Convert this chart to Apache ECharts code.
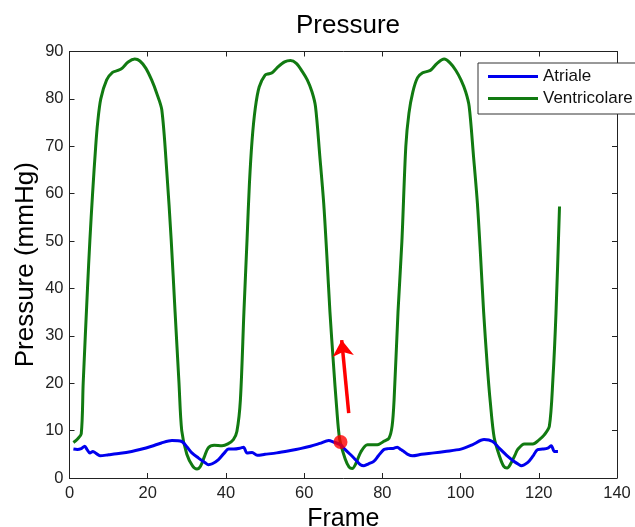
<!DOCTYPE html>
<html>
<head>
<meta charset="utf-8">
<script src="https://cdn.jsdelivr.net/npm/echarts@6/dist/echarts.min.js"></script>
<style>
html,body{margin:0;padding:0;background:#fff;}
#chart{width:635px;height:527px;}
</style>
</head>
<body>
<div id="chart"></div>
<script>
var chartTitle = 'Pressure';
var xAxisName = 'Frame';
var yAxisName = 'Pressure (mmHg)';
var seriesNames = ['Atriale', 'Ventricolare'];
var xTicks = [0, 20, 40, 60, 80, 100, 120, 140];
var yTicks = [0, 10, 20, 30, 40, 50, 60, 70, 80, 90];

var atrFrames = [1,2,3,3.9,4.5,5.2,6,6.8,7.8,10,13,15.9,18,21,23.5,26.2,28.7,30,31.3,33,34.7,35.5,36.5,38.1,39.5,40.7,42,43.7,44.5,45.4,46.7,48,50,53,56.5,59,61.6,64,66.3,67.5,69.3,70.5,71.9,73.2,74.4,75.3,76.5,77.8,79,80.4,81.5,83,83.8,84.7,85.5,86.5,87.7,90,93.2,96,100.1,103,106,108.2,110,112,113.5,115,115.5,117.2,118.5,119.7,121,122.3,123.2,124,124.9];
var atrValues = [6.1,6.0,6.2,6.7,6.0,5.3,5.6,5.2,4.7,4.9,5.2,5.6,6.0,6.7,7.4,7.9,7.7,6.6,5.3,4.2,3.2,2.8,3.0,3.9,5.2,6.1,6.1,6.3,6.5,5.3,5.4,4.8,5.0,5.3,5.8,6.2,6.7,7.3,7.9,7.6,7.0,6.0,4.9,3.8,2.8,2.6,3.0,3.5,4.7,6.0,6.2,6.3,6.5,6.0,5.6,5.0,4.7,5.0,5.3,5.6,6.1,7.0,8.1,7.7,6.2,4.6,3.6,2.8,2.6,3.3,4.6,6.0,6.1,6.3,6.8,5.6,5.6];

var ventFrames = [1,2,3,3.5,4.6,5.2,5.9,6.7,7.2,8,9.5,11,12.4,13.5,15,16.7,18,19.5,21,22.3,23.6,24.9,26,27,28,28.7,30,31.5,32.6,33.5,34.5,35.5,37,39,40.5,41.9,42.8,43.7,44.6,45.4,46,46.7,47.5,48.5,50,51,51.8,53,55,56.5,58,59.5,60.8,62,62.9,64,65,65.8,66.6,67.5,68.3,69.1,70.5,71.5,72.3,73.2,74.5,76.2,78.7,80.5,81.7,82.5,83,84,85,86,86.8,87.8,89,90.3,91.5,92.4,94,95.8,97.3,98.8,100.1,101.3,102.2,103.3,104.3,105.1,105.9,106.8,107.6,108.6,110,111,111.9,112.8,114,114.6,116.3,118.5,120,121.4,122.7,123.6,124.4,125.3];
var ventValues = [7.5,8.2,9.3,20,40,50,60,70,75,80,84,85.6,86,86.5,87.8,88.4,88,86.5,84,81.2,77.7,64.4,50.3,35,20,10,5,2.5,1.9,2.5,4.5,6.4,6.9,6.8,7.2,8.1,9.8,16.5,35,50.3,62,71.4,78,82.5,85,85.3,85.5,86.5,87.8,88.1,87.5,85.8,84,81.5,78.4,68,58,47,35,24,15,8.1,4,2.3,2,3,5.5,7.0,7.0,7.8,8.4,11,16.5,35,50,70,77,81.5,84.5,85.5,85.8,86.1,87.5,88.4,87.6,86,84,81.5,78.4,68,58,47,35,24,16,8.5,4.5,2.5,2.1,3,5,6,7.2,7.2,8,9.1,10.9,20.7,34.8,57.3];

var markerPoint = [69.3, 7.6];
var arrowStart = [71.4, 13.7];
var arrowEnd = [69.6, 29.1];

function pairs(xs, ys) { return xs.map(function (x, i) { return [x, ys[i]]; }); }

var font = '"Liberation Sans", Arial, Helvetica, sans-serif';
var axisColor = '#222';

var chart = echarts.init(document.getElementById('chart'), null, {renderer: 'canvas'});

var baseX = {
  type: 'value', min: xTicks[0], max: xTicks[xTicks.length - 1], interval: xTicks[1] - xTicks[0],
  axisLine: {show: true, onZero: false, lineStyle: {color: axisColor, width: 1}},
  axisTick: {show: true, inside: true, length: 5, lineStyle: {color: axisColor}},
  splitLine: {show: false}
};
var baseY = {
  type: 'value', min: yTicks[0], max: yTicks[yTicks.length - 1], interval: yTicks[1] - yTicks[0],
  axisLine: {show: true, onZero: false, lineStyle: {color: axisColor, width: 1}},
  axisTick: {show: true, inside: true, length: 5, lineStyle: {color: axisColor}},
  splitLine: {show: false}
};

var option = {
  backgroundColor: '#fff',
  animation: false,
  title: {
    text: chartTitle, left: 291, top: 8,
    textStyle: {fontFamily: font, fontSize: 26, fontWeight: 'normal', color: '#000'}
  },
  legend: {
    data: seriesNames, orient: 'vertical', left: 478, top: 63,
    backgroundColor: '#fff', borderColor: '#333', borderWidth: 1,
    padding: [5, 14, 7, 10], itemGap: 5, itemWidth: 50, itemHeight: 3, icon: 'rect',
    textStyle: {fontFamily: font, fontSize: 17, color: '#111'}
  },
  grid: {left: 69.5, right: 18, top: 51.5, bottom: 49, containLabel: false, outerBoundsMode: 'none'},
  xAxis: [
    Object.assign({}, baseX, {
      position: 'bottom', name: xAxisName, nameLocation: 'middle', nameGap: 21,
      nameTextStyle: {fontFamily: font, fontSize: 25, color: '#000'},
      axisLabel: {show: true, margin: 7, fontFamily: font, fontSize: 16.5, color: '#222'}
    }),
    Object.assign({}, baseX, {position: 'top', axisLabel: {show: false}})
  ],
  yAxis: [
    Object.assign({}, baseY, {
      position: 'left', name: yAxisName, nameLocation: 'middle', nameGap: 31, nameMoveOverlap: false,
      nameTextStyle: {fontFamily: font, fontSize: 26, color: '#000'},
      axisLabel: {show: true, margin: 6, fontFamily: font, fontSize: 16.5, color: '#222'}
    }),
    Object.assign({}, baseY, {position: 'right', axisLabel: {show: false}})
  ],
  series: [
    {
      name: seriesNames[0], type: 'line', xAxisIndex: 0, yAxisIndex: 0,
      data: pairs(atrFrames, atrValues), showSymbol: false, smooth: 0.3,
      lineStyle: {color: '#0000ee', width: 3}, itemStyle: {color: '#0000ee'}, z: 3
    },
    {
      name: seriesNames[1], type: 'line', xAxisIndex: 0, yAxisIndex: 0,
      data: pairs(ventFrames, ventValues), showSymbol: false, smooth: 0.3,
      lineStyle: {color: '#117a11', width: 3}, itemStyle: {color: '#117a11'}, z: 2
    },
    {
      name: 'arrow', type: 'lines', coordinateSystem: 'cartesian2d', xAxisIndex: 0, yAxisIndex: 0,
      data: [{coords: [arrowStart, arrowEnd]}],
      symbol: ['none', 'arrow'], symbolSize: [13, 16],
      lineStyle: {color: '#ff0000', width: 3.5, opacity: 1}, z: 5
    },
    {
      name: 'marker', type: 'scatter', xAxisIndex: 0, yAxisIndex: 0,
      data: [markerPoint], symbolSize: 14,
      itemStyle: {color: '#ff0000'}, z: 6
    }
  ]
};
chart.setOption(option);
</script>
</body>
</html>
